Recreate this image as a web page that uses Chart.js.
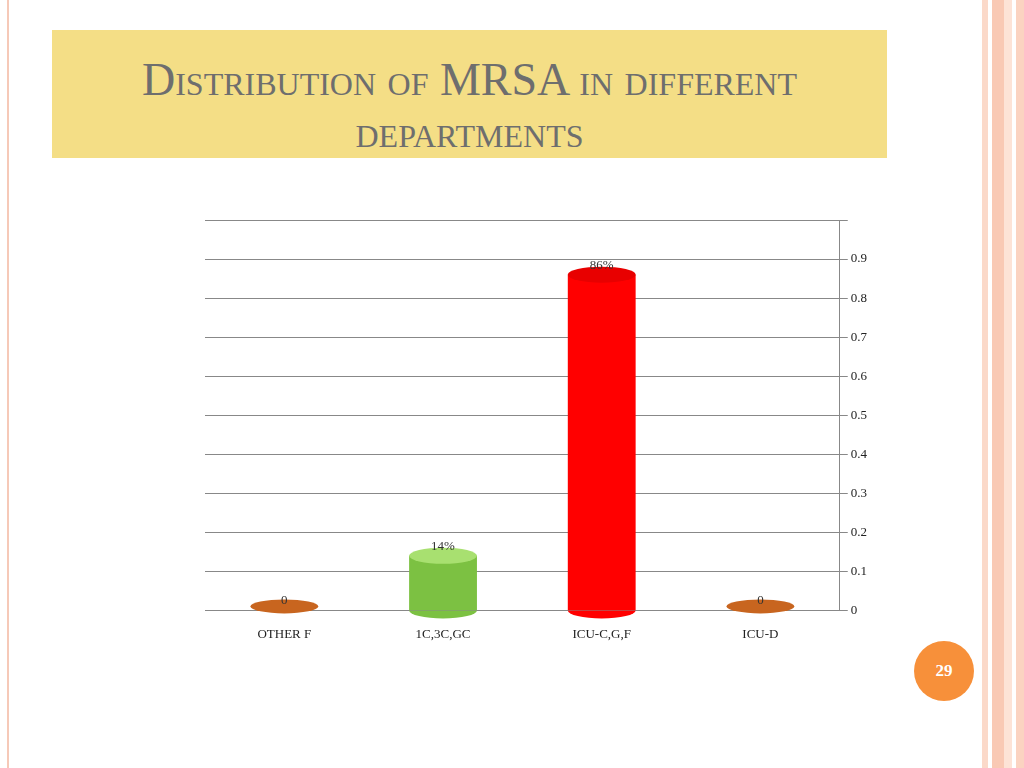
<!DOCTYPE html>
<html>
<head>
<meta charset="utf-8">
<script src="https://cdn.jsdelivr.net/npm/chart.js@4"></script>
<style>
  body { margin:0; width:1024px; height:768px; background:#fff; position:relative; overflow:hidden; font-family:"Liberation Serif", serif; }
  .edge { position:absolute; left:7px; top:0; width:2px; height:768px; background:#f6c9b8; }
  .stripes { position:absolute; right:0; top:0; width:46px; height:768px;
    background:linear-gradient(to right,#fff 0,#fff 4px,#fbd9c9 4px,#fbd9c9 10px,#fff 10px,#fff 14px,#f9c9b4 14px,#f9c9b4 26px,#fde3d6 26px,#fde3d6 34px,#fff 34px,#fff 38px,#fbd3c1 38px); }
  .title { position:absolute; left:52px; top:30px; width:835px; height:128px; background:#f4de86;
    color:#6e6e6e; text-align:center; font-variant:small-caps; font-size:46px; line-height:52px; padding-top:24px; box-sizing:border-box; }
  .wrap { position:absolute; left:150px; top:200px; width:720px; height:450px; }
  .page { position:absolute; left:914px; top:641px; width:60px; height:60px; border-radius:50%; background:#f7903a;
    color:#fff; font-weight:bold; font-size:17px; text-align:center; line-height:60px; }
</style>
</head>
<body>
<div class="edge"></div>
<div class="stripes"></div>
<div class="title">Distribution of MRSA in different<br>departments</div>
<div class="wrap"><canvas id="c"></canvas></div>
<div class="page">29</div>
<script>
const categories = ["OTHER F", "1C,3C,GC", "ICU-C,G,F", "ICU-D"];
const values = [0, 0.14, 0.86, 0];
const valueLabels = ["0", "14%", "86%", "0"];
const barColors = ["#c8651f", "#7cc142", "#ff0000", "#c8651f"];

const labelPlugin = {
  id: "labels",
  afterDatasetsDraw(chart) {
    const ctx = chart.ctx;
    const meta = chart.getDatasetMeta(0);
    ctx.save();
    meta.data.forEach((bar, i) => {
      const w = bar.width;
      if (values[i] === 0) {
        ctx.fillStyle = "#c8651f";
        ctx.beginPath();
        ctx.ellipse(bar.x, bar.y - 4, w / 2, 7, 0, 0, Math.PI * 2);
        ctx.fill();
      } else {
        ctx.fillStyle = barColors[i];
        ctx.beginPath();
        ctx.ellipse(bar.x, chart.scales.y.getPixelForValue(0), w / 2, 8, 0, 0, Math.PI);
        ctx.fill();
        ctx.fillStyle = i === 1 ? "#a8e070" : "#e80000";
        ctx.beginPath();
        ctx.ellipse(bar.x, bar.y, w / 2, 8, 0, 0, Math.PI * 2);
        ctx.fill();
      }
      ctx.fillStyle = "#333";
      ctx.font = "13px 'Liberation Serif'";
      ctx.textAlign = "center";
      ctx.fillText(valueLabels[i], bar.x, bar.y - 6);
    });
    ctx.restore();
  }
};

new Chart(document.getElementById("c"), {
  type: "bar",
  data: {
    labels: categories,
    datasets: [{
      data: values,
      backgroundColor: (c) => {
        const i = c.dataIndex;
        const el = c.chart.getDatasetMeta(0).data[i];
        if (!el || !isFinite(el.x) || !isFinite(el.width) || !el.width) return barColors[i];
        const g = c.chart.ctx.createLinearGradient(el.x - el.width / 2, 0, el.x + el.width / 2, 0);
        if (i === 1) { g.addColorStop(0, "#4f8a1e"); g.addColorStop(0.6, "#8ed14f"); g.addColorStop(1, "#a6e06a"); }
        else { g.addColorStop(0, "#8a0000"); g.addColorStop(0.5, "#ff0000"); g.addColorStop(1, "#ff1a1a"); }
        return g;
      },
      barPercentage: 0.45,
      categoryPercentage: 0.95
    }]
  },
  options: {
    responsive: true,
    maintainAspectRatio: false,
    animation: false,
    layout: { padding: { top: 20, left: 55 } },
    plugins: { legend: { display: false }, tooltip: { enabled: false } },
    scales: {
      x: {
        grid: { display: false },
        border: { color: "#888" },
        ticks: { color: "#222", font: { family: "Liberation Serif", size: 13 }, padding: 8 }
      },
      y: {
        position: "right",
        min: 0, max: 1,
        ticks: { stepSize: 0.1, color: "#222", font: { family: "Liberation Serif", size: 13 },
          callback: (v) => v >= 0.95 ? "" : Math.round(v * 10) / 10 },
        grid: { color: "#888", drawTicks: true, tickLength: 8 },
        border: { color: "#888" }
      }
    }
  },
  plugins: [labelPlugin]
});
</script>
</body>
</html>
